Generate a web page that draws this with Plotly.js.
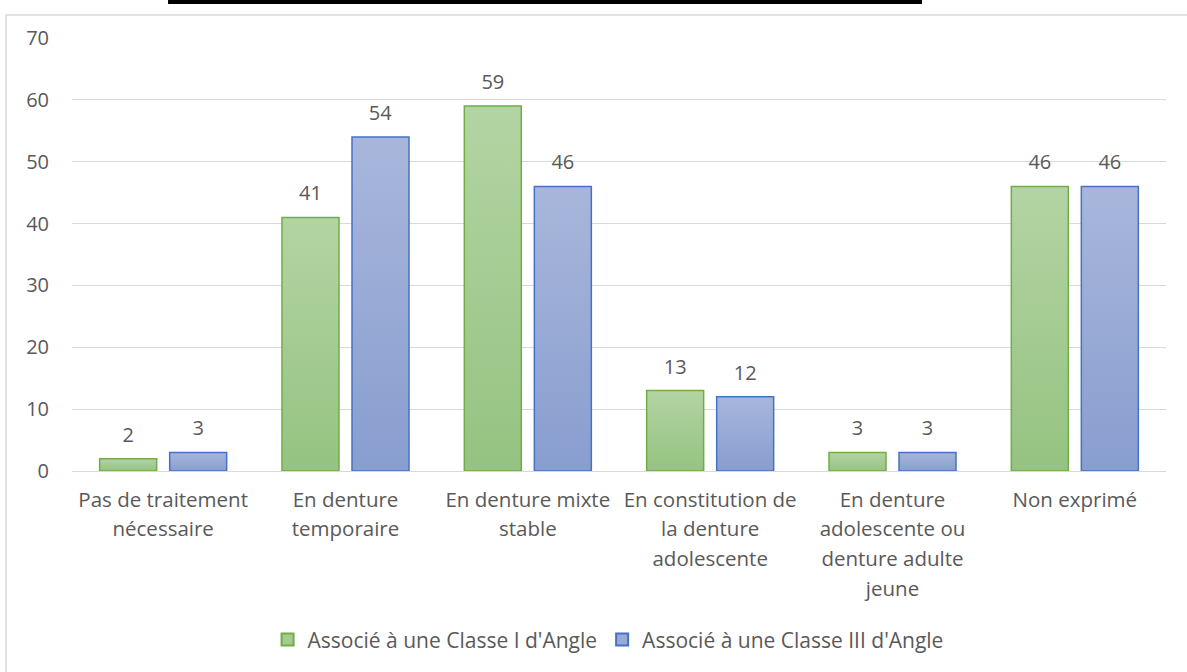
<!DOCTYPE html>
<html>
<head>
<meta charset="utf-8">
<script src="https://cdn.plot.ly/plotly-3.0.1.min.js"></script>
<style>
html,body{margin:0;padding:0;background:#fff;}
#chart{width:1187px;height:672px;}
</style>
</head>
<body>
<div id="chart"></div>
<script>
const categories = [
  "Pas de traitement<br>nécessaire",
  "En denture<br>temporaire",
  "En denture mixte<br>stable",
  "En constitution de<br>la denture<br>adolescente",
  "En denture<br>adolescente ou<br>denture adulte<br>jeune",
  "Non exprimé"
];
const seriesNames = ["Associé à une Classe I d'Angle", "Associé à une Classe III d'Angle"];
const classeI = [2, 41, 59, 13, 3, 46];
const classeIII = [3, 54, 46, 12, 3, 46];
const yTicks = [0, 10, 20, 30, 40, 50, 60, 70];

const FONT = "Open Sans, Liberation Sans, sans-serif";
const GREY = "#595959";

const traces = [
  {
    type: "bar", name: seriesNames[0], x: categories, y: classeI,
    marker: {color: "#a5cb94", line: {color: "#70ad47", width: 1.5}},
    text: classeI.map(String), textposition: "outside", cliponaxis: false,
    textfont: {family: FONT, size: 20, color: GREY}, hoverinfo: "x+y"
  },
  {
    type: "bar", name: seriesNames[1], x: categories, y: classeIII,
    marker: {color: "#99abd5", line: {color: "#4472c4", width: 1.5}},
    text: classeIII.map(String), textposition: "outside", cliponaxis: false,
    textfont: {family: FONT, size: 20, color: GREY}, hoverinfo: "x+y"
  }
];

const layout = {
  width: 1187, height: 672,
  margin: {l: 72, r: 21, t: 38, b: 201},
  paper_bgcolor: "#ffffff", plot_bgcolor: "#ffffff",
  font: {family: FONT, size: 20, color: GREY},
  barmode: "group", bargap: 0.232, bargroupgap: 0.186,
  showlegend: true,
  legend: {orientation: "h", x: 0.49, xanchor: "center", y: -0.39, yanchor: "middle",
           font: {family: FONT, size: 21, color: GREY}, itemsizing: "constant"},
  xaxis: {
    type: "category", showgrid: false, zeroline: false, showline: false,
    ticks: "", tickangle: 0, ticklabelstandoff: 14,
    tickfont: {family: FONT, size: 20.5, color: GREY},
    automargin: false
  },
  yaxis: {
    range: [0, 70], tickvals: yTicks, ticktext: yTicks.map(String),
    showgrid: true, gridcolor: "#d9d9d9", gridwidth: 1.2,
    zeroline: true, zerolinecolor: "#d9d9d9", zerolinewidth: 1.2,
    showline: false, ticks: "", ticklabelstandoff: 22,
    tickfont: {family: FONT, size: 20, color: GREY}, automargin: false
  },
  shapes: [
    {type: "rect", xref: "paper", yref: "paper", x0: -0.0603, x1: 1.05, y0: -0.6, y1: 1.0531,
     line: {color: "#d9d9d9", width: 1.5}, fillcolor: "rgba(0,0,0,0)", layer: "below"},
    {type: "rect", xref: "paper", yref: "paper", x0: 0.0878, x1: 0.777, y0: 1.0785, y1: 1.095,
     line: {width: 0}, fillcolor: "#000000"}
  ]
};

function polish(gd) {
  const svg = gd.querySelector("svg.main-svg");
  if (!svg) return;
  const ns = "http://www.w3.org/2000/svg";
  let defs = svg.querySelector("defs");
  if (!defs) { defs = document.createElementNS(ns, "defs"); svg.insertBefore(defs, svg.firstChild); }
  const grads = [["gradI", "#b3d4a3", "#95c381"], ["gradIII", "#a8b6db", "#889ecf"]];
  grads.forEach(([id, top, bot]) => {
    const g = document.createElementNS(ns, "linearGradient");
    g.setAttribute("id", id); g.setAttribute("x1", "0"); g.setAttribute("y1", "0");
    g.setAttribute("x2", "0"); g.setAttribute("y2", "1");
    const s1 = document.createElementNS(ns, "stop"); s1.setAttribute("offset", "0"); s1.setAttribute("stop-color", top);
    const s2 = document.createElementNS(ns, "stop"); s2.setAttribute("offset", "1"); s2.setAttribute("stop-color", bot);
    g.appendChild(s1); g.appendChild(s2); defs.appendChild(g);
  });
  gd.querySelectorAll(".barlayer .trace").forEach((tg, i) => {
    tg.querySelectorAll(".point path").forEach(p => { p.style.fill = "url(#" + grads[i][0] + ")"; });
    tg.querySelectorAll(".point text").forEach(t => {
      t.setAttribute("transform", "translate(0,-8) " + (t.getAttribute("transform") || ""));
    });
  });
  gd.querySelectorAll(".xtick text tspan.line").forEach(ts => {
    const dy = ts.getAttribute("dy");
    const v = dy ? parseFloat(dy) : 0;
    if (v > 0) ts.setAttribute("dy", (v * 1.46 / 1.3).toFixed(3) + "em");
  });
}

Plotly.newPlot("chart", traces, layout, {displayModeBar: false, responsive: false})
  .then(gd => polish(gd));
</script>
</body>
</html>
